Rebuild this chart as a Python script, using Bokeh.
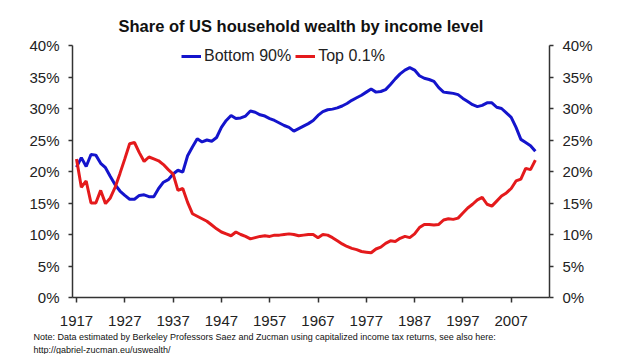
from bokeh.plotting import figure
from bokeh.models import LinearAxis, FixedTicker, PrintfTickFormatter, Range1d, Legend, LegendItem, Title
from bokeh.embed import file_html
from bokeh.resources import INLINE

title_text = "Share of US household wealth by income level"
note_line1 = "Note: Data estimated by Berkeley Professors Saez and Zucman using capitalized income tax returns, see also here:"
note_line2 = "http://gabriel-zucman.eu/uswealth/"

years = list(range(1917, 2013))
x_tick_years = [1917, 1927, 1937, 1947, 1957, 1967, 1977, 1987, 1997, 2007]
y_ticks = [0, 5, 10, 15, 20, 25, 30, 35, 40]

bottom_90 = [
    20.7, 22.2, 20.8, 22.7, 22.6, 21.3, 20.6, 19.2, 17.9, 16.9,
    16.2, 15.6, 15.6, 16.2, 16.3, 16.0, 16.0, 17.3, 18.3, 18.7,
    19.6, 20.2, 19.9, 22.5, 23.9, 25.2, 24.7, 25.0, 24.8, 25.4,
    27.0, 28.1, 28.9, 28.4, 28.5, 28.8, 29.6, 29.4, 29.0, 28.8,
    28.4, 28.1, 27.7, 27.3, 27.0, 26.4, 26.8, 27.2, 27.6, 28.1,
    28.9, 29.5, 29.8, 29.9, 30.1, 30.4, 30.8, 31.3, 31.7, 32.1,
    32.6, 33.1, 32.6, 32.7, 33.0, 33.8, 34.7, 35.5, 36.1, 36.5,
    36.1, 35.2, 34.8, 34.6, 34.3, 33.3, 32.6, 32.5, 32.4, 32.2,
    31.6, 31.1, 30.6, 30.3, 30.5, 30.9, 30.9, 30.2, 30.0, 29.3,
    28.6, 27.0, 25.1, 24.6, 24.1, 23.2,
]
top_01 = [
    22.0, 17.5, 18.5, 15.0, 15.0, 17.0, 14.9, 15.8, 17.5, 19.7,
    22.0, 24.4, 24.6, 23.0, 21.6, 22.3, 22.0, 21.7, 21.1, 20.3,
    19.6, 17.0, 17.3, 15.1, 13.3, 12.9, 12.5, 12.1, 11.5, 10.9,
    10.4, 10.1, 9.8, 10.4, 10.0, 9.7, 9.3, 9.5, 9.7, 9.8,
    9.7, 9.9, 9.9, 10.0, 10.1, 10.0, 9.8, 9.9, 10.0, 10.0,
    9.5, 10.0, 9.9, 9.5, 9.0, 8.5, 8.1, 7.8, 7.6, 7.3,
    7.2, 7.1, 7.7, 8.0, 8.6, 9.0, 8.9, 9.4, 9.7, 9.5,
    10.1, 11.1, 11.6, 11.6, 11.5, 11.6, 12.3, 12.5, 12.4, 12.6,
    13.4, 14.2, 14.8, 15.5, 15.9, 14.8, 14.5, 15.3, 16.1, 16.6,
    17.3, 18.5, 18.8, 20.5, 20.3, 21.8,
]
series_names = ["Bottom 90%", "Top 0.1%"]

BLUE = "#1414CC"
RED = "#E41A1C"
AXIS = "#333333"
TXT = "#222222"

p = figure(width=630, height=354, output_backend="svg", toolbar_location=None,
           x_range=Range1d(1916.17, 2014.93), y_range=Range1d(0, 40),
           min_border_left=72, min_border_right=81, min_border_top=45, min_border_bottom=57,
           y_axis_location=None, x_axis_location=None)
p.outline_line_color = None
p.xgrid.visible = False
p.ygrid.visible = False
p.background_fill_color = "white"
p.border_fill_color = "white"

r1 = p.line(years, bottom_90, line_color=BLUE, line_width=3)
r2 = p.line(years, top_01, line_color=RED, line_width=3)

p.title.text = title_text
p.title.align = "left"
p.title.offset = 46
p.title.standoff = 21
p.title.text_font = "Liberation Sans"
p.title.text_font_style = "bold"
p.title.text_font_size = "16.5px"
p.title.text_color = "#111111"

def style_axis(ax):
    ax.axis_line_color = AXIS
    ax.axis_line_width = 1.5
    ax.major_tick_line_color = AXIS
    ax.major_tick_line_width = 1.5
    ax.minor_tick_line_color = None
    ax.major_tick_in = 0
    ax.major_label_text_font = "Liberation Sans"
    ax.major_label_text_font_size = "15px"
    ax.major_label_text_color = TXT

xax = LinearAxis(ticker=FixedTicker(ticks=x_tick_years))
style_axis(xax)
xax.major_tick_out = 5
xax.major_label_standoff = 13
p.add_layout(xax, "below")

for txt, so in ((note_line1, 2), (note_line2, 0)):
    t = Title(text=txt, align="left", offset=-39, standoff=so,
              text_font="Liberation Sans", text_font_size="9px",
              text_font_style="normal", text_color="#111111")
    p.add_layout(t, "below")

for side in ("left", "right"):
    yax = LinearAxis(ticker=FixedTicker(ticks=y_ticks), formatter=PrintfTickFormatter(format="%d%%"))
    style_axis(yax)
    yax.major_tick_out = 4
    yax.major_label_standoff = 9
    p.add_layout(yax, side)

legend = Legend(items=[LegendItem(label=series_names[0], renderers=[r1]),
                       LegendItem(label=series_names[1], renderers=[r2])],
                orientation="horizontal", location=(109, 232))
legend.background_fill_alpha = 0
legend.border_line_color = None
legend.padding = 0
legend.margin = 0
legend.spacing = 4
legend.glyph_width = 20
legend.glyph_height = 18
legend.label_height = 18
legend.label_standoff = 3
legend.label_text_font = "Liberation Sans"
legend.label_text_font_size = "16px"
legend.label_text_color = TXT
p.add_layout(legend, "center")

open("out.html", "w").write(file_html(p, INLINE))
